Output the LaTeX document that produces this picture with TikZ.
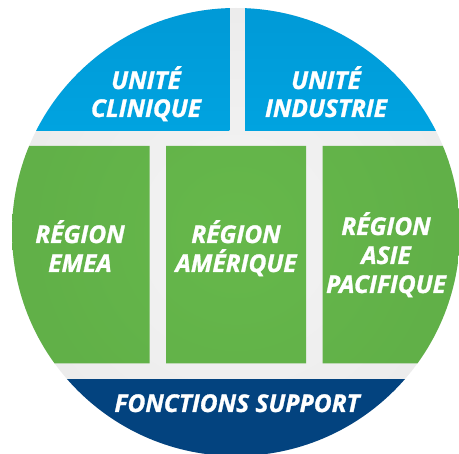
\documentclass[tikz,border=0pt]{standalone}
\usepackage{fontspec}
\setmainfont{Open Sans}[BoldItalicFeatures={FakeBold=1.2}]
\definecolor{ublue}{HTML}{00A3E0}
\definecolor{ubluetop}{HTML}{0099D6}
\definecolor{rgreen}{HTML}{66B84B}
\definecolor{rgreendark}{HTML}{5BA744}
\definecolor{fnavy}{HTML}{03437F}
\definecolor{gapgray}{HTML}{F4F4F4}
\definecolor{gapedge}{HTML}{E4E4E4}
\pgfdeclareradialshading{greenrad}{\pgfpoint{0bp}{0bp}}{color(0bp)=(rgreen); color(50bp)=(rgreendark)}
\pgfdeclareradialshading{grayrad}{\pgfpoint{0bp}{0bp}}{color(0bp)=(gapgray); color(50bp)=(gapedge)}
\begin{document}
\begin{tikzpicture}[x=1pt,y=-1pt,
  lbl/.style={text=white, font=\fontsize{24.5}{28}\selectfont\bfseries\itshape, anchor=base, inner sep=0pt}]
\useasboundingbox (0,0) rectangle (459,454);
\coordinate (c) at (236,232);
\shade[shading=grayrad] (c) circle[radius=224pt];
\begin{scope}
  \clip (c) circle[radius=224pt];
  \shade[top color=ubluetop, bottom color=ublue] (0,0) rectangle (229.3,130.5);
  \shade[top color=ubluetop, bottom color=ublue] (245,0) rectangle (470,130.5);
  \begin{scope}
    \clip (0,146) rectangle (149.5,363.5) (166,146) rectangle (306,363.5) (322.5,146) rectangle (470,363.5);
    \shade[shading=greenrad] (c) circle[radius=224pt];
  \end{scope}
  \fill[fnavy] (0,379) rectangle (470,470);
\end{scope}
% Unité clinique
\node[lbl] (uc1) at (146,89) {UNITÉ};
\node[lbl] (uc2) at (146,117) {CLINIQUE};
% Unité industrie
\node[lbl] (ui1) at (326,89) {UNITÉ};
\node[lbl] (ui2) at (326,117) {INDUSTRIE};
% Région EMEA
\node[lbl] (re1) at (80,243) {RÉGION};
\node[lbl] (re2) at (80,272) {EMEA};
% Région Amérique
\node[lbl] (ra1) at (236,243) {RÉGION};
\node[lbl] (ra2) at (236,272) {AMÉRIQUE};
% Région Asie Pacifique
\node[lbl] (rp1) at (386,235) {RÉGION};
\node[lbl] (rp2) at (386,264) {ASIE};
\node[lbl] (rp3) at (386,293) {PACIFIQUE};
% Fonctions support
\node[lbl] (fs) at (237,412) {FONCTIONS SUPPORT};
\end{tikzpicture}
\end{document}
